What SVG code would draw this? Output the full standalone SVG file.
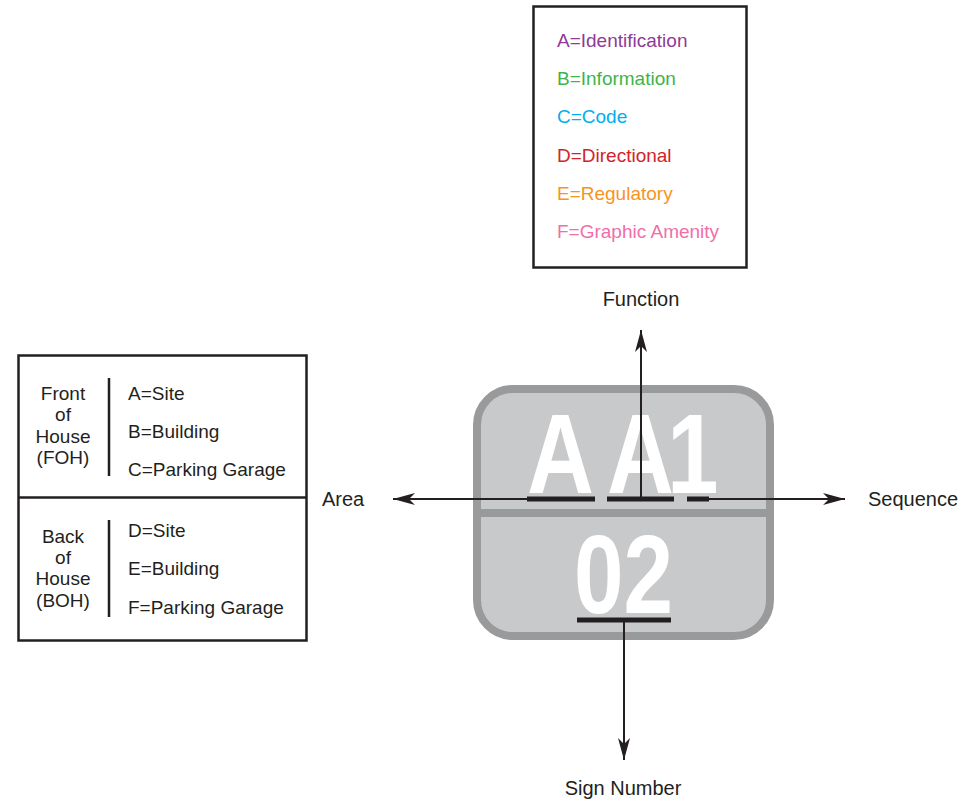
<svg xmlns="http://www.w3.org/2000/svg" width="967" height="805" viewBox="0 0 967 805">
<style>
.t{font-family:"Liberation Sans",Arial,sans-serif;font-size:19px;fill:#231f20}
.lbl{font-family:"Liberation Sans",Arial,sans-serif;font-size:20px;fill:#231f20}
.box{fill:#fff;stroke:#231f20;stroke-width:2.5}
.ln{stroke:#231f20;stroke-width:2;fill:none}
.bar{stroke:#231f20;stroke-width:2.5}
.ul{fill:#231f20}
.big{font-family:"Liberation Sans",Arial,sans-serif;font-weight:bold;fill:#fff}
</style>
<defs>
<marker id="ah" viewBox="0 0 22 12" refX="22" refY="6" markerWidth="22" markerHeight="12" markerUnits="userSpaceOnUse" orient="auto">
<path d="M0,0 L22,6 L0,12 L6,6 z" fill="#231f20"/>
</marker>
</defs>
<rect width="967" height="805" fill="#fff"/>

<g id="function-legend">
<rect class="box" x="533.5" y="6.5" width="213" height="261"/>
<text class="t" x="557" y="47" style="fill:#8e3a97">A=Identification</text>
<text class="t" x="557" y="85" style="fill:#3db54a">B=Information</text>
<text class="t" x="557" y="123" style="fill:#00aeef">C=Code</text>
<text class="t" x="557" y="162" style="fill:#d2232a">D=Directional</text>
<text class="t" x="557" y="200" style="fill:#f7941d">E=Regulatory</text>
<text class="t" x="557" y="238" style="fill:#f06eaa">F=Graphic Amenity</text>
</g>

<g id="area-legend">
<rect class="box" x="18.5" y="355.5" width="288" height="285"/>
<line class="bar" x1="18.5" y1="497.5" x2="306.5" y2="497.5"/>
<line class="bar" x1="109" y1="378" x2="109" y2="476"/>
<line class="bar" x1="109" y1="520" x2="109" y2="617"/>
<g class="t" text-anchor="middle">
<text x="63" y="400">Front</text>
<text x="63" y="421">of</text>
<text x="63" y="443">House</text>
<text x="63" y="464">(FOH)</text>
<text x="63" y="543">Back</text>
<text x="63" y="564">of</text>
<text x="63" y="585">House</text>
<text x="63" y="607">(BOH)</text>
</g>
<text class="t" x="128" y="400">A=Site</text>
<text class="t" x="128" y="438">B=Building</text>
<text class="t" x="128" y="476">C=Parking Garage</text>
<text class="t" x="128" y="537">D=Site</text>
<text class="t" x="128" y="575">E=Building</text>
<text class="t" x="128" y="614">F=Parking Garage</text>
</g>

<g id="sign">
<rect x="477" y="389" width="293" height="247" rx="36" ry="36" fill="#c8c9cb" stroke="#999a9c" stroke-width="8"/>
<rect x="477" y="509" width="293" height="8" fill="#999a9c"/>
<text class="big" transform="scale(0.82,1)" x="642.7 740.2 813.4" y="493" font-size="113">AA1</text>
<text class="big" x="574" y="613" font-size="112" textLength="99" lengthAdjust="spacingAndGlyphs">02</text>
<rect class="ul" x="527" y="496.5" width="68" height="5"/>
<rect class="ul" x="607" y="496.5" width="67" height="5"/>
<rect class="ul" x="687" y="496.5" width="22" height="5"/>
<rect class="ul" x="577" y="617.5" width="94" height="5"/>
</g>

<g id="connectors">
<line class="ln" x1="527" y1="499" x2="393" y2="499" marker-end="url(#ah)"/>
<line class="ln" x1="709" y1="499" x2="845" y2="499" marker-end="url(#ah)"/>
<line class="ln" x1="641" y1="499" x2="641" y2="330" marker-end="url(#ah)"/>
<line class="ln" x1="624" y1="620" x2="624" y2="760" marker-end="url(#ah)"/>
</g>

<g id="labels">
<text class="lbl" x="641" y="306" text-anchor="middle">Function</text>
<text class="lbl" x="623" y="795" text-anchor="middle">Sign Number</text>
<text class="lbl" x="322" y="506">Area</text>
<text class="lbl" x="868" y="506">Sequence</text>
</g>
</svg>
